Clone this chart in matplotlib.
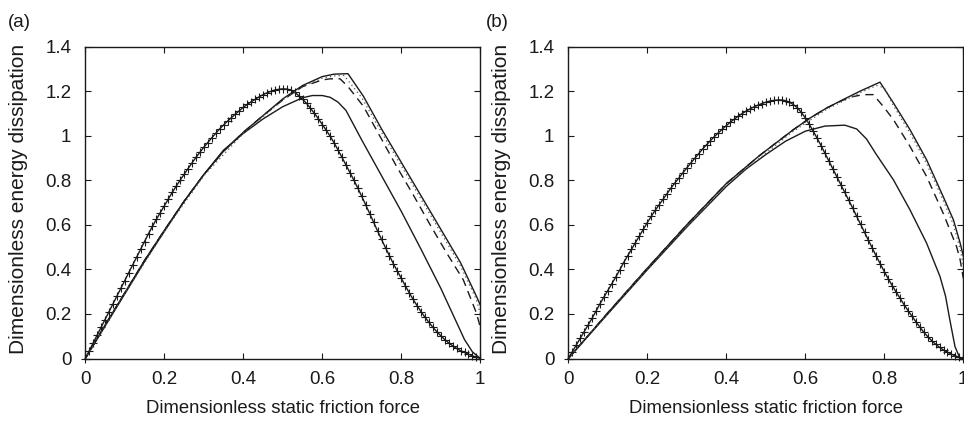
import numpy as np
import matplotlib
matplotlib.use("Agg")
import matplotlib.pyplot as plt

plt.rcParams['font.family'] = ['Liberation Sans', 'DejaVu Sans']

# ---------------- data: panel (a) ----------------
a_plus_x = np.round(np.arange(0, 1.0001, 0.01), 2)
a_plus_y = [0.0, 0.035, 0.07, 0.105, 0.14, 0.175, 0.21, 0.245, 0.28, 0.315,
            0.35, 0.385, 0.42, 0.455, 0.49, 0.525, 0.56, 0.593, 0.625, 0.655,
            0.685, 0.715, 0.745, 0.773, 0.80, 0.826, 0.852, 0.877, 0.902, 0.925,
            0.948, 0.969, 0.990, 1.010, 1.030, 1.048, 1.065, 1.081, 1.097, 1.112,
            1.127, 1.140, 1.152, 1.163, 1.174, 1.184, 1.192, 1.199, 1.205, 1.208,
            1.21, 1.209, 1.205, 1.194, 1.18, 1.163, 1.145, 1.123, 1.10, 1.076,
            1.05, 1.024, 0.997, 0.967, 0.935, 0.902, 0.868, 0.834, 0.80, 0.764,
            0.727, 0.689, 0.65, 0.611, 0.572, 0.534, 0.497, 0.461, 0.425, 0.392,
            0.36, 0.327, 0.295, 0.265, 0.237, 0.21, 0.185, 0.162, 0.140, 0.12,
            0.102, 0.085, 0.070, 0.057, 0.045, 0.035, 0.027, 0.019, 0.012, 0.006,
            0.0]

a_low_x = [0, 0.05, 0.1, 0.15, 0.2, 0.25, 0.3, 0.35, 0.4, 0.45, 0.5, 0.55, 0.575,
           0.6, 0.62, 0.64, 0.66, 0.7, 0.75, 0.8, 0.85, 0.9, 0.93, 0.96, 0.98, 1.0]
a_low_y = [0, 0.145, 0.29, 0.435, 0.57, 0.705, 0.825, 0.935, 1.01, 1.075, 1.13, 1.17,
           1.18, 1.18, 1.172, 1.15, 1.113, 0.98, 0.82, 0.66, 0.49, 0.315, 0.2, 0.085,
           0.03, 0.0]

a_top_x = [0, 0.05, 0.1, 0.15, 0.2, 0.25, 0.3, 0.35, 0.4, 0.45, 0.5, 0.55, 0.6,
           0.63, 0.665, 0.704, 0.75, 0.8, 0.85, 0.9, 0.95, 0.99, 1.0]
a_top_y = [0, 0.15, 0.295, 0.44, 0.575, 0.705, 0.825, 0.93, 1.015, 1.09, 1.165,
           1.225, 1.265, 1.276, 1.278, 1.177, 1.03, 0.88, 0.73, 0.58, 0.43, 0.28, 0.24]

a_dash_x = [0, 0.05, 0.1, 0.15, 0.2, 0.25, 0.3, 0.35, 0.4, 0.45, 0.5, 0.55, 0.6,
            0.62, 0.645, 0.665, 0.704, 0.746, 0.788, 0.83, 0.873, 0.915, 0.957, 0.99, 1.0]
a_dash_y = [0, 0.15, 0.295, 0.44, 0.575, 0.705, 0.825, 0.93, 1.015, 1.09, 1.16,
            1.22, 1.25, 1.255, 1.255, 1.22, 1.132, 0.997, 0.862, 0.735, 0.6, 0.473,
            0.353, 0.205, 0.14]

a_dot_x = [0, 0.1, 0.2, 0.3, 0.4, 0.5, 0.55, 0.6, 0.63, 0.655, 0.7, 0.75, 0.8,
           0.85, 0.9, 0.95, 0.99, 1.0]
a_dot_y = [0, 0.29, 0.57, 0.82, 1.01, 1.16, 1.22, 1.258, 1.268, 1.27, 1.17, 1.015,
           0.865, 0.715, 0.565, 0.415, 0.265, 0.2]

# ---------------- data: panel (b) ----------------
b_plus_x = np.round(np.arange(0, 1.0001, 0.01), 2)
b_plus_y = [0.0, 0.03, 0.06, 0.09, 0.12, 0.15, 0.18, 0.212, 0.245, 0.275,
            0.305, 0.335, 0.365, 0.397, 0.43, 0.46, 0.49, 0.52, 0.55, 0.58,
            0.61, 0.638, 0.665, 0.69, 0.715, 0.74, 0.765, 0.788, 0.81, 0.833,
            0.855, 0.877, 0.898, 0.919, 0.94, 0.959, 0.978, 0.996, 1.013, 1.029,
            1.045, 1.06, 1.074, 1.087, 1.099, 1.11, 1.12, 1.129, 1.137, 1.144,
            1.150, 1.155, 1.158, 1.16, 1.16, 1.157, 1.15, 1.139, 1.125, 1.104,
            1.08, 1.051, 1.02, 0.988, 0.955, 0.92, 0.885, 0.85, 0.815, 0.78,
            0.745, 0.71, 0.675, 0.638, 0.602, 0.566, 0.53, 0.494, 0.458, 0.424,
            0.39, 0.358, 0.327, 0.298, 0.27, 0.242, 0.215, 0.19, 0.165, 0.141,
            0.118, 0.098, 0.08, 0.064, 0.05, 0.038, 0.028, 0.019, 0.012, 0.005,
            0.0]

b_low_x = [0, 0.1, 0.2, 0.3, 0.4, 0.45, 0.5, 0.55, 0.6, 0.65, 0.7, 0.73, 0.755,
           0.78, 0.823, 0.865, 0.907, 0.941, 0.955, 0.966, 0.979, 0.992, 1.0]
b_low_y = [0, 0.2, 0.398, 0.59, 0.772, 0.85, 0.915, 0.975, 1.02, 1.043, 1.047,
           1.03, 0.985, 0.915, 0.802, 0.667, 0.518, 0.368, 0.28, 0.173, 0.053, 0.0, 0.0]

b_top_x = [0, 0.1, 0.2, 0.3, 0.4, 0.485, 0.57, 0.612, 0.654, 0.696, 0.738, 0.789,
           0.823, 0.865, 0.907, 0.949, 0.975, 0.992, 1.0]
b_top_y = [0, 0.205, 0.405, 0.6, 0.785, 0.912, 1.027, 1.079, 1.124, 1.162, 1.199,
           1.24, 1.147, 1.027, 0.892, 0.727, 0.622, 0.518, 0.46]

b_dash_x = [0, 0.1, 0.2, 0.3, 0.4, 0.485, 0.57, 0.612, 0.654, 0.696, 0.72, 0.747,
            0.772, 0.797, 0.823, 0.865, 0.907, 0.949, 0.983, 0.992, 1.0]
b_dash_y = [0, 0.205, 0.405, 0.6, 0.785, 0.912, 1.027, 1.079, 1.124, 1.16, 1.175,
            1.184, 1.184, 1.132, 1.072, 0.952, 0.817, 0.652, 0.502, 0.443, 0.36]

b_dot_x = [0, 0.2, 0.4, 0.57, 0.654, 0.738, 0.78, 0.8, 0.823, 0.865, 0.907, 0.949,
           0.975, 0.992, 1.0]
b_dot_y = [0, 0.4, 0.78, 1.02, 1.118, 1.192, 1.225, 1.215, 1.135, 1.012, 0.875,
           0.71, 0.6, 0.49, 0.42]

x_ticks = [0, 0.2, 0.4, 0.6, 0.8, 1]
x_ticklabels = ['0', '0.2', '0.4', '0.6', '0.8', '1']
y_ticks = [0, 0.2, 0.4, 0.6, 0.8, 1.0, 1.2, 1.4]
y_ticklabels = ['0', '0.2', '0.4', '0.6', '0.8', '1', '1.2', '1.4']
panel_labels = ['(a)', '(b)']
xlabel = 'Dimensionless static friction force'
ylabel = 'Dimensionless energy dissipation'

# ---------------- drawing ----------------
W, H = 964, 424
fig = plt.figure(figsize=(W / 100, H / 100), dpi=100)
axw, axh = 395 / W, 312 / H
bottom = (H - 358.5) / H
ax_a = fig.add_axes([85.3 / W, bottom, axw, axh])
ax_b = fig.add_axes([568.3 / W, bottom, axw, axh])

col = '#1a1a1a'
lw = 1.0

panels = [
    (ax_a, a_plus_x, a_plus_y, a_low_x, a_low_y, a_top_x, a_top_y,
     a_dash_x, a_dash_y, a_dot_x, a_dot_y, -0.196),
    (ax_b, b_plus_x, b_plus_y, b_low_x, b_low_y, b_top_x, b_top_y,
     b_dash_x, b_dash_y, b_dot_x, b_dot_y, -0.208),
]

for i, (ax, px, py, lx, ly, tx, ty, dx, dy, ox, oy, lab_x) in enumerate(panels):
    ax.plot(px, py, color=col, lw=lw, marker='+', ms=5.5, mew=0.8, clip_on=False)
    ax.plot(lx, ly, color=col, lw=lw)
    ax.plot(tx, ty, color=col, lw=lw)
    ax.plot(dx, dy, color=col, lw=lw, ls=(0, (6, 4)))
    ax.plot(ox, oy, color='#555555', lw=0.9, ls=(0, (1, 2.5)))
    ax.set_xlim(0, 1)
    ax.set_ylim(0, 1.4)
    ax.set_xticks(x_ticks)
    ax.set_xticklabels(x_ticklabels)
    ax.set_yticks(y_ticks)
    ax.set_yticklabels(y_ticklabels)
    ax.tick_params(direction='in', length=4, width=0.8, top=True, right=True,
                   labelsize=13.5, colors=col)
    ax.tick_params(axis='x', pad=9)
    ax.tick_params(axis='y', pad=10)
    for s in ax.spines.values():
        s.set_linewidth(1.0)
        s.set_color(col)
    ax.set_xlabel(xlabel, fontsize=13.3, color=col)
    ax.set_ylabel(ylabel, fontsize=15, color=col)
    ax.xaxis.set_label_coords(0.5, -0.133)
    ax.yaxis.set_label_coords(-0.145, 0.51)
    ax.text(lab_x, 1.0785, panel_labels[i], transform=ax.transAxes, fontsize=13.5,
            color=col, ha='left', va='center')

fig.savefig('out.png', dpi=100)
